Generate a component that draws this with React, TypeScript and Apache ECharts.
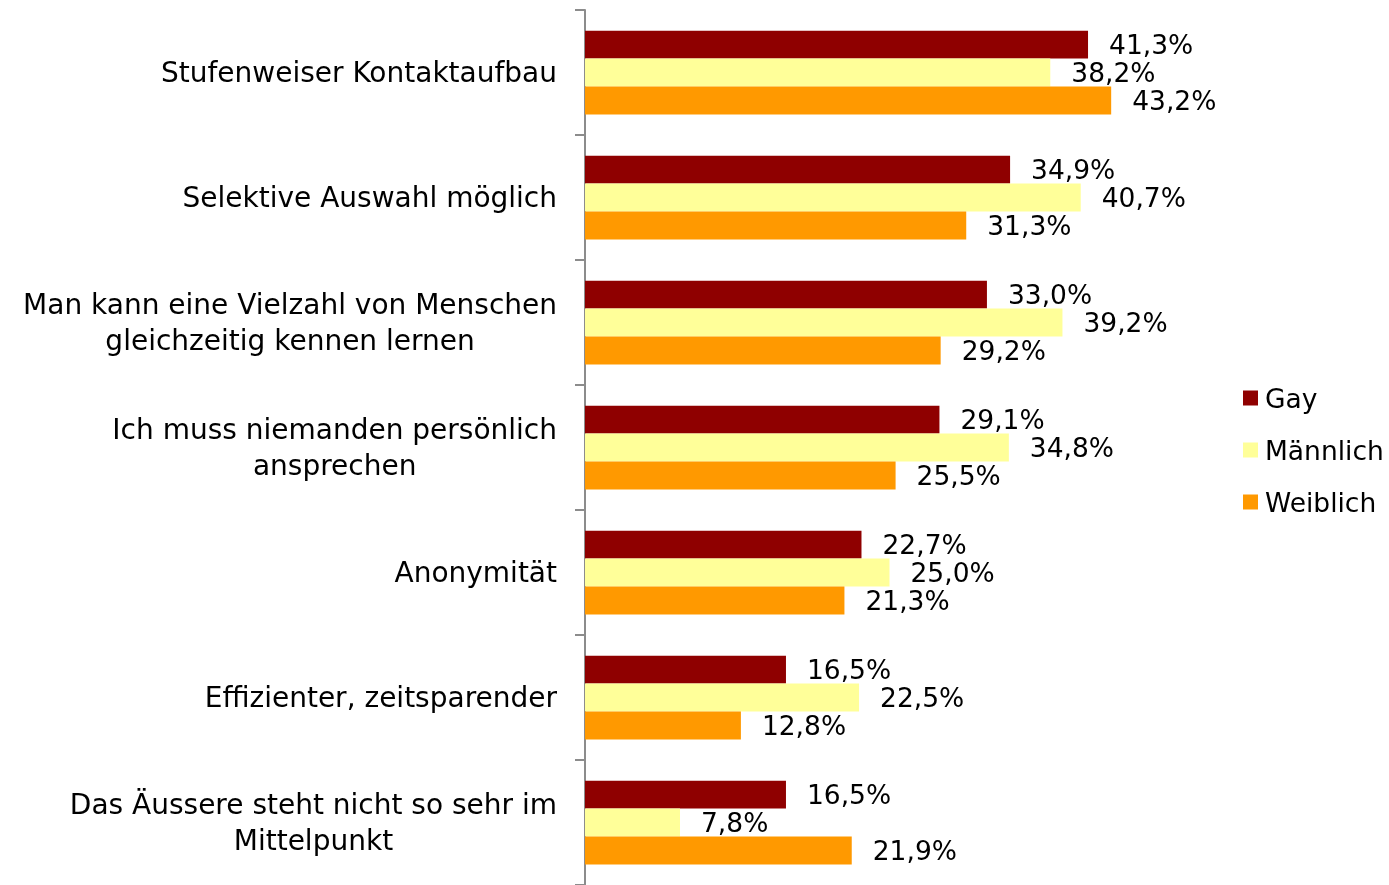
import React, { useEffect, useRef } from "react";
import * as echarts from "echarts";

const categories = [
  "Stufenweiser Kontaktaufbau",
  "Selektive Auswahl möglich",
  "Man kann eine Vielzahl von Menschen\ngleichzeitig kennen lernen",
  "Ich muss niemanden persönlich\nansprechen",
  "Anonymität",
  "Effizienter, zeitsparender",
  "Das Äussere steht nicht so sehr im\nMittelpunkt",
];
const seriesNames = ["Gay", "Männlich", "Weiblich"];
const gay = [41.3, 34.9, 33.0, 29.1, 22.7, 16.5, 16.5];
const maennlich = [38.2, 40.7, 39.2, 34.8, 25.0, 22.5, 7.8];
const weiblich = [43.2, 31.3, 29.2, 25.5, 21.3, 12.8, 21.9];
const colors = ["#8F0000", "#FFFF99", "#FF9900"];

const FONT = "DejaVu Sans";

export default function App() {
  const ref = useRef<HTMLDivElement>(null);
  useEffect(() => {
    if (!ref.current) return;
    const chart = echarts.init(ref.current, undefined, { renderer: "svg" });
    const values = [gay, maennlich, weiblich];
    chart.setOption({
      animation: false,
      grid: { left: 585, top: 10, width: 609, bottom: 0, containLabel: false },
      xAxis: { type: "value", min: 0, max: 50, show: false },
      yAxis: {
        type: "category",
        inverse: true,
        data: categories,
        axisLine: { show: true, lineStyle: { color: "#8C8C8C", width: 2 } },
        axisTick: { show: true, inside: false, length: 10, lineStyle: { color: "#8C8C8C", width: 2 } },
        axisLabel: {
          margin: 28,
          fontFamily: FONT,
          fontSize: 28,
          color: "#000",
          lineHeight: 36,
          formatter: (v: string) =>
            v
              .split("\n")
              .map((l) => "{c|" + l + "}")
              .join("\n"),
          rich: {
            c: { align: "center", fontFamily: FONT, fontSize: 28, lineHeight: 36, color: "#000" },
          },
        },
      },
      legend: {
        orient: "vertical",
        left: 1238,
        top: 379,
        itemWidth: 15,
        itemHeight: 15,
        itemGap: 24,
        icon: "rect",
        data: seriesNames,
        textStyle: { fontFamily: FONT, fontSize: 26.5, color: "#000", lineHeight: 28, padding: [0, 0, 0, 2] },
      },
      series: seriesNames.map((name, i) => ({
        name,
        type: "bar",
        data: values[i],
        barGap: "0%",
        barCategoryGap: "33%",
        itemStyle: { color: colors[i] },
        label: {
          show: true,
          position: "right",
          distance: 21,
          fontFamily: FONT,
          fontSize: 26.5,
          lineHeight: 26,
          color: "#000",
          formatter: (p: any) => p.value.toFixed(1).replace(".", ",") + "%",
        },
      })),
    });
    return () => chart.dispose();
  }, []);
  return (
    <div
      ref={ref}
      style={{ position: "fixed", left: 0, top: 0, width: 1389, height: 885 }}
    />
  );
}
